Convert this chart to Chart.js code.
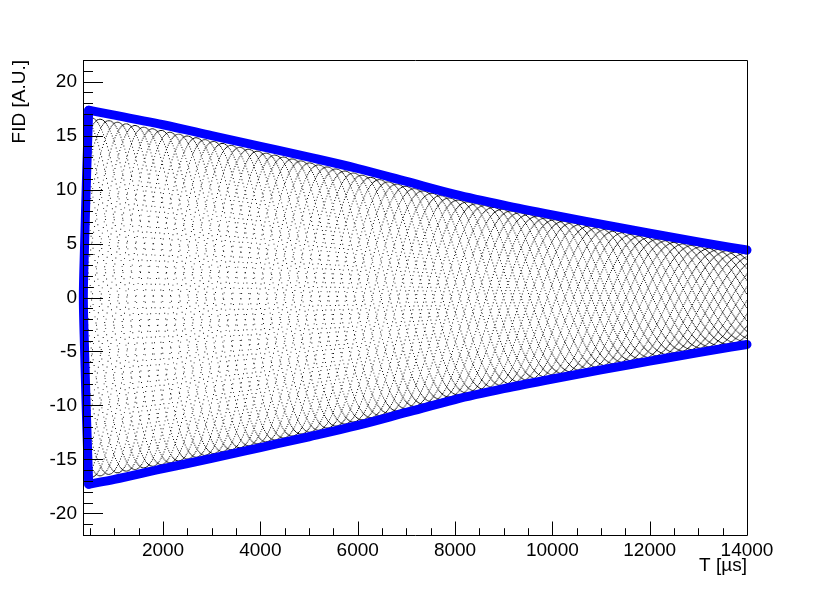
<!DOCTYPE html>
<html>
<head>
<meta charset="utf-8">
<script src="https://cdn.jsdelivr.net/npm/chart.js@4.4.1/dist/chart.umd.min.js"></script>
<style>
  html, body { margin: 0; padding: 0; background: #fff; }
  canvas { display: block; }
</style>
</head>
<body>
<canvas id="c" width="830" height="595"></canvas>
<script>
// ---------------- data ----------------
// blue envelope (µs, A.U.)
const envTimes = [472, 1000, 2000, 3000, 4000, 5000, 6000, 7000, 8000, 9000, 10000, 11000, 12000, 13000, 14000];
const envUpper = [17.35, 16.9, 16.0, 15.0, 14.0, 13.0, 11.95, 10.75, 9.55, 8.55, 7.65, 6.8, 5.95, 5.15, 4.4];
const envLower = [-17.3, -16.85, -15.85, -14.9, -13.9, -12.9, -11.85, -10.65, -9.45, -8.45, -7.55, -6.7, -5.9, -5.1, -4.35];
// leading edge of the blue trace (left vertical part)
const edgeTimes = [472, 430, 385, 362, 385, 430, 472];
const edgeValues = [-17.3, -11.5, -4.5, 0, 4.5, 11.5, 17.35];
// black FID samples: peak amplitude read at the same times
const fidAmpTimes = envTimes;
const fidAmp = [16.7, 16.3, 15.45, 14.5, 13.5, 12.5, 11.45, 10.3, 9.1, 8.15, 7.25, 6.45, 5.6, 4.8, 4.1];
const fidStart = 450, fidEnd = 14000, fidStep = 1;     // µs sampling
const carrierFreq = 0.0502778;                          // cycles / µs (from the moiré period)
// axes
const xMin = 355, xMax = 14000, xMinor = 500;
const xTickValues = [2000, 4000, 6000, 8000, 10000, 12000, 14000];
const yMin = -22, yMax = 22, yMinor = 1;
const yTickValues = [-20, -15, -10, -5, 0, 5, 10, 15, 20];
const xTitle = 'T [µs]';
const yTitle = 'FID [A.U.]';

// ---------------- build library datasets ----------------
function ampAt(t) {
  if (t <= fidAmpTimes[0]) return fidAmp[0];
  for (let i = 1; i < fidAmpTimes.length; i++) {
    if (t <= fidAmpTimes[i]) {
      const f = (t - fidAmpTimes[i - 1]) / (fidAmpTimes[i] - fidAmpTimes[i - 1]);
      return fidAmp[i - 1] + f * (fidAmp[i] - fidAmp[i - 1]);
    }
  }
  return fidAmp[fidAmp.length - 1];
}
const fidPoints = [];
for (let t = fidStart; t <= fidEnd; t += fidStep) {
  fidPoints.push({ x: t, y: ampAt(t) * Math.cos(2 * Math.PI * carrierFreq * t) });
}
const upperPoints = envTimes.map((t, i) => ({ x: t, y: envUpper[i] }));
const lowerPoints = envTimes.map((t, i) => ({ x: t, y: envLower[i] }));
const edgePoints = edgeTimes.map((t, i) => ({ x: t, y: edgeValues[i] }));

const FONT = 'Liberation Sans, Arimo, Arial, Helvetica, sans-serif';
const labelFont = { family: FONT, size: 19 };

const rootAxes = {
  id: 'rootAxes',
  afterDraw(chart) {
    const { ctx, chartArea: a } = chart;
    const xs = chart.scales.x, ys = chart.scales.y;
    ctx.save();
    ctx.strokeStyle = '#000';
    ctx.lineWidth = 1;
    ctx.beginPath();
    ctx.rect(Math.round(a.left) + 0.5, Math.round(a.top) + 0.5, Math.round(a.right - a.left), Math.round(a.bottom - a.top));
    ctx.stroke();
    ctx.beginPath();
    for (let v = Math.ceil(xMin / xMinor) * xMinor; v <= xMax; v += xMinor) {
      const px = Math.round(xs.getPixelForValue(v)) + 0.5;
      const len = xTickValues.includes(v) ? 13.5 : 6.8;
      ctx.moveTo(px, a.bottom);
      ctx.lineTo(px, a.bottom - len);
    }
    for (let v = Math.ceil(yMin / yMinor) * yMinor; v <= yMax; v += yMinor) {
      const py = Math.round(ys.getPixelForValue(v)) + 0.5;
      const len = yTickValues.includes(v) ? 20 : 10;
      ctx.moveTo(a.left, py);
      ctx.lineTo(a.left + len, py);
    }
    ctx.stroke();
    ctx.restore();
  }
};

const blueStyle = {
  showLine: true, borderColor: '#0000ff', backgroundColor: '#0000ff', borderWidth: 9,
  pointRadius: 0, borderCapStyle: 'round', borderJoinStyle: 'round', clip: false, order: 0
};

new Chart(document.getElementById('c'), {
  type: 'scatter',
  data: {
    datasets: [
      Object.assign({ label: 'upper envelope', data: upperPoints, cubicInterpolationMode: 'monotone' }, blueStyle),
      Object.assign({ label: 'lower envelope', data: lowerPoints, cubicInterpolationMode: 'monotone' }, blueStyle),
      Object.assign({ label: 'leading edge', data: edgePoints, tension: 0.3 }, blueStyle),
      {
        label: 'FID', data: fidPoints, showLine: false,
        pointStyle: 'rect', pointRadius: 0.65, borderWidth: 0,
        backgroundColor: '#000000', order: 1
      }
    ]
  },
  options: {
    responsive: false, animation: false, devicePixelRatio: 1,
    parsing: false, normalized: true,
    layout: { padding: { top: 60, right: 83, left: 0, bottom: 0 } },
    plugins: { legend: { display: false }, tooltip: { enabled: false } },
    scales: {
      x: {
        type: 'linear', min: xMin, max: xMax,
        grid: { display: false, drawTicks: false }, border: { display: false },
        afterBuildTicks(s) { s.ticks = xTickValues.map(v => ({ value: v })); },
        ticks: { font: labelFont, color: '#000', padding: 4, maxRotation: 0, autoSkip: false, callback: v => String(v) },
        title: { display: true, text: xTitle, align: 'end', font: labelFont, color: '#000', padding: { top: 0, bottom: 17.6 } },
        afterFit(s) { s.height = 60; }
      },
      y: {
        type: 'linear', min: yMin, max: yMax,
        grid: { display: false, drawTicks: false }, border: { display: false },
        afterBuildTicks(s) { s.ticks = yTickValues.map(v => ({ value: v })); },
        ticks: { font: labelFont, color: '#000', padding: 6, autoSkip: false, callback: v => String(v) },
        title: { display: true, text: yTitle, align: 'end', font: labelFont, color: '#000', padding: { top: 8.6, bottom: 0 } },
        afterFit(s) { s.width = 83; }
      }
    }
  },
  plugins: [rootAxes]
});
</script>
</body>
</html>
